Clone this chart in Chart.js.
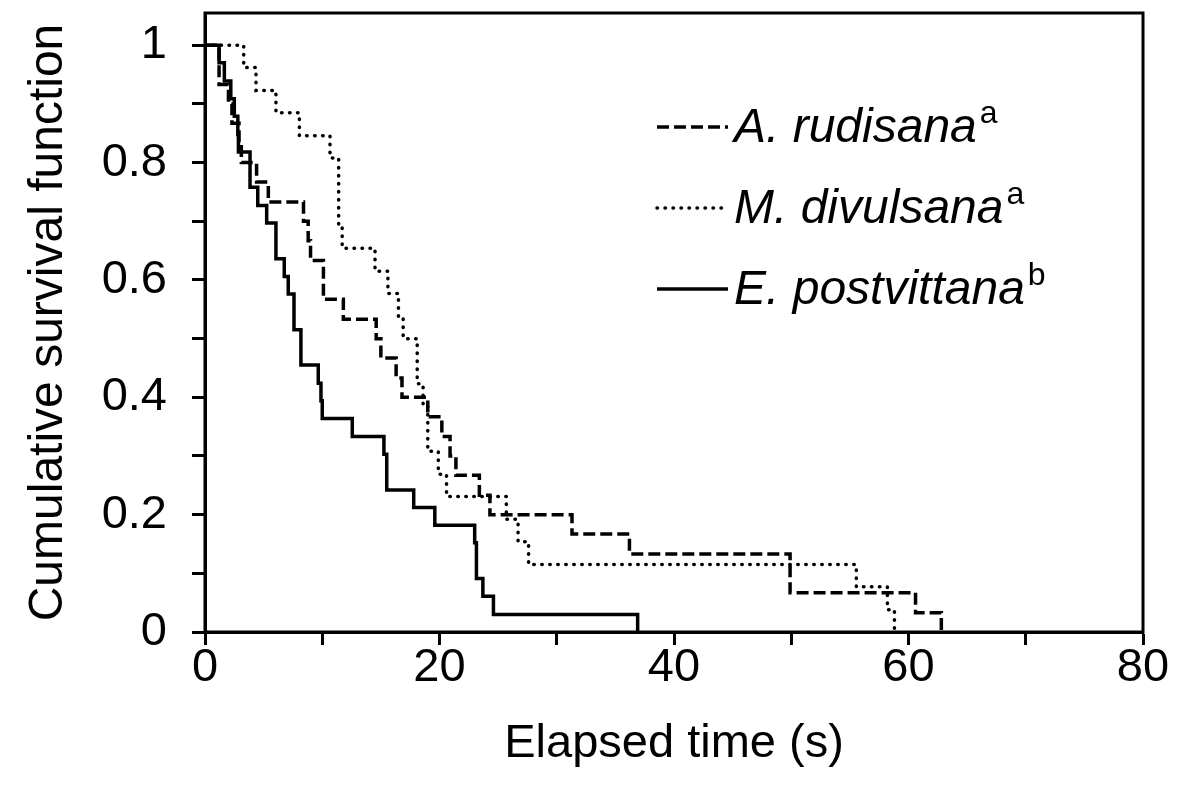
<!DOCTYPE html>
<html>
<head>
<meta charset="utf-8">
<script src="https://cdn.jsdelivr.net/npm/chart.js@4/dist/chart.umd.min.js"></script>
<style>
  body { margin: 0; background: #fff; }
  #wrap { width: 1184px; height: 785px; }
</style>
</head>
<body>
<div id="wrap"><canvas id="myChart" width="1184" height="785"></canvas></div>
<script>
/* data: step times (s) and survival after each step */
var rudisanaTime = [0, 1.2, 2.0, 2.3, 2.9, 3.1, 4.4, 5.4, 8.4, 8.8, 9.0, 10.1, 11.8, 14.6, 15.0, 16.3, 16.8, 19.0, 20.2, 20.9, 21.4, 23.4, 24.3, 31.3, 36.2, 49.9, 60.6, 62.8];
var rudisanaSurv = [1, 0.933, 0.9, 0.867, 0.833, 0.8, 0.767, 0.733, 0.7, 0.667, 0.633, 0.567, 0.533, 0.5, 0.467, 0.433, 0.4, 0.367, 0.333, 0.3, 0.267, 0.233, 0.2, 0.167, 0.133, 0.067, 0.033, 0];

var divulsanaTime = [0, 3.3, 4.35, 6.05, 8.05, 10.66, 11.4, 11.7, 14.5, 15.6, 16.5, 16.9, 18.1, 18.6, 19.0, 19.9, 20.6, 25.7, 26.7, 27.6, 55.55, 58.2, 58.8];
var divulsanaSurv = [1, 0.962, 0.923, 0.885, 0.846, 0.808, 0.692, 0.654, 0.615, 0.577, 0.538, 0.5, 0.423, 0.385, 0.308, 0.269, 0.231, 0.192, 0.154, 0.115, 0.077, 0.038, 0];

var postvittanaTime = [0, 1.2, 1.65, 2.2, 2.5, 2.8, 2.85, 3.84, 4.5, 5.26, 6.05, 6.76, 7.1, 7.59, 8.18, 9.66, 9.89, 10.0, 12.56, 15.26, 15.5, 17.8, 19.6, 23.0, 23.15, 23.7, 24.6, 36.9];
var postvittanaSurv = [1, 0.970, 0.939, 0.909, 0.879, 0.848, 0.818, 0.758, 0.727, 0.697, 0.636, 0.606, 0.576, 0.515, 0.455, 0.424, 0.394, 0.364, 0.333, 0.303, 0.242, 0.212, 0.182, 0.152, 0.091, 0.061, 0.030, 0];

var seriesNames = ['A. rudisana', 'M. divulsana', 'E. postvittana'];
var seriesSup = ['a', 'a', 'b'];

var xTicks = [0, 10, 20, 30, 40, 50, 60, 70, 80];
var yTicks = [0, 0.1, 0.2, 0.3, 0.4, 0.5, 0.6, 0.7, 0.8, 0.9, 1];

function toPoints(times, surv) {
  return times.map(function(t, i) { return {x: t, y: surv[i]}; });
}

var FONT = '"Liberation Sans", Arial, sans-serif';
Chart.defaults.font.family = FONT;
Chart.defaults.color = '#000';

/* box round the plot + legend inside it */
var framePlugin = {
  id: 'frame',
  afterDraw: function(chart) {
    var ctx = chart.ctx, a = chart.chartArea;
    ctx.save();
    ctx.strokeStyle = '#000';
    ctx.lineWidth = 3;
    ctx.strokeRect(a.left, a.top, a.right - a.left, a.bottom - a.top);

    var rows = [127, 208, 289];
    chart.data.datasets.forEach(function(ds, i) {
      var y = rows[i];
      ctx.beginPath();
      ctx.lineWidth = ds.borderWidth;
      ctx.lineCap = ds.borderCapStyle || 'butt';
      ctx.setLineDash(ds.borderDash || []);
      ctx.moveTo(657, y);
      ctx.lineTo(728, y);
      ctx.stroke();
      ctx.setLineDash([]);
      ctx.fillStyle = '#000';
      ctx.textBaseline = 'middle';
      ctx.textAlign = 'left';
      ctx.font = 'italic 48px ' + FONT;
      ctx.fillText(seriesNames[i], 734, y + 2);
      var w = ctx.measureText(seriesNames[i]).width;
      ctx.font = '32px ' + FONT;
      ctx.fillText(seriesSup[i], 734 + w + 3, y - 13);
    });
    ctx.restore();
  }
};

var ctx = document.getElementById('myChart').getContext('2d');
var myChart = new Chart(ctx, {
  type: 'line',
  data: {
    datasets: [
      {
        label: seriesNames[0],
        data: toPoints(rudisanaTime, rudisanaSurv),
        borderColor: '#000',
        borderWidth: 3.5,
        borderDash: [12, 5],
        stepped: 'before',
        pointRadius: 0
      },
      {
        label: seriesNames[1],
        data: toPoints(divulsanaTime, divulsanaSurv),
        borderColor: '#000',
        borderWidth: 3.5,
        borderDash: [0.5, 7.5],
        borderCapStyle: 'round',
        stepped: 'before',
        pointRadius: 0
      },
      {
        label: seriesNames[2],
        data: toPoints(postvittanaTime, postvittanaSurv),
        borderColor: '#000',
        borderWidth: 3.5,
        stepped: 'before',
        pointRadius: 0
      }
    ]
  },
  options: {
    responsive: false,
    animation: false,
    layout: { padding: { top: 13, right: 41, left: 0, bottom: 0 } },
    plugins: {
      legend: { display: false },
      tooltip: { enabled: false }
    },
    scales: {
      x: {
        type: 'linear',
        min: 0,
        max: 80,
        afterBuildTicks: function(scale) {
          scale.ticks = xTicks.map(function(v) { return {value: v}; });
        },
        afterFit: function(scale) {
          scale.height = 153;
          scale.paddingLeft = 0;
          scale.paddingRight = 0;
        },
        grid: {
          drawOnChartArea: false,
          drawTicks: true,
          tickLength: 13,
          tickColor: '#000',
          tickWidth: 3
        },
        border: { color: '#000', width: 3 },
        ticks: {
          autoSkip: false,
          maxRotation: 0,
          padding: 0,
          font: { size: 47, lineHeight: 1 },
          color: '#000',
          callback: function(v) { return v % 20 === 0 ? String(v) : ''; }
        },
        title: {
          display: true,
          text: 'Elapsed time (s)',
          color: '#000',
          font: { size: 47, lineHeight: 1 },
          padding: { top: 0, bottom: 17 }
        }
      },
      y: {
        min: 0,
        max: 1.055,
        afterBuildTicks: function(scale) {
          scale.ticks = yTicks.map(function(v) { return {value: v}; });
        },
        afterFit: function(scale) {
          scale.width = 205;
          scale.paddingTop = 0;
          scale.paddingBottom = 0;
        },
        grid: {
          drawOnChartArea: false,
          drawTicks: true,
          tickLength: 13,
          tickColor: '#000',
          tickWidth: 3
        },
        border: { color: '#000', width: 3 },
        ticks: {
          autoSkip: false,
          padding: 25,
          font: { size: 47, lineHeight: 1 },
          color: '#000',
          callback: function(v) {
            var k = Math.round(v * 10);
            return k % 2 === 0 ? String(k / 10) : '';
          }
        },
        title: {
          display: true,
          text: 'Cumulative survival function',
          color: '#000',
          font: { size: 48, lineHeight: 1 },
          padding: { top: 25, bottom: 0 }
        }
      }
    }
  },
  plugins: [framePlugin]
});
</script>
</body>
</html>
